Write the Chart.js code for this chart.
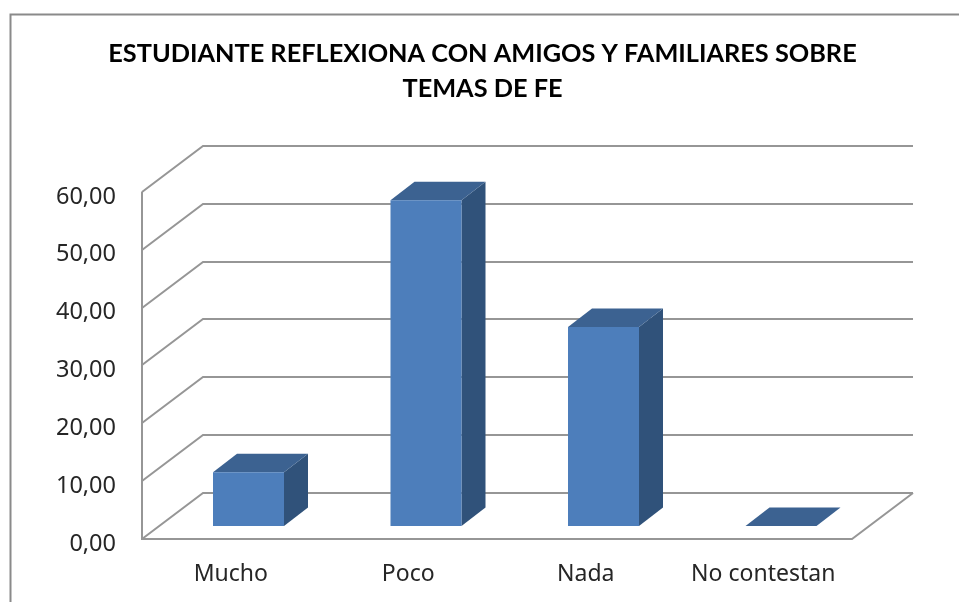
<!DOCTYPE html>
<html><head><meta charset="utf-8">
<style>html,body{margin:0;padding:0;background:#fff}#w{width:959px;height:602px;position:relative}</style>
<script src="https://cdn.jsdelivr.net/npm/chart.js@4"></script>
</head><body><div id="w"><canvas id="c" width="959" height="602"></canvas></div>
<script>
const categories = ["Mucho","Poco","Nada","No contestan"];
const values = [9.3,56.3,34.4,0];
const titleLines = ["ESTUDIANTE REFLEXIONA CON AMIGOS Y FAMILIARES SOBRE","TEMAS DE FE"];
const yMax = 60, yStep = 10;
const wall = {dx:61, dy:-46}, barShift = {dx:17.75, dy:-13}, barDepth = {dx:24, dy:-18.5};
const colors = {front:"#4D7EBB", top:"#3C6291", side:"#30527A", grid:"#969696", frame:"#8A8A8A"};

function poly(ctx, pts, fill){
  ctx.beginPath();
  pts.forEach((p,i)=> i?ctx.lineTo(p[0],p[1]):ctx.moveTo(p[0],p[1]));
  ctx.closePath();
  ctx.fillStyle=fill;ctx.fill();
}
function shiftLabels(s,dy){
  if(s._shifted) return;
  s._shifted=true;
  const draw=s.drawLabels.bind(s);
  s.drawLabels=a=>{s.ctx.save();s.ctx.translate(0,dy);draw(a);s.ctx.restore();};
}
const threeD = {
  id:"threeD",
  beforeDraw(chart){
    const c=chart.ctx;
    c.save();
    c.strokeStyle=colors.frame;c.lineWidth=2;
    c.beginPath();c.moveTo(10.5,602);c.lineTo(10.5,14.5);c.lineTo(959,14.5);c.stroke();
    c.restore();
  },
  beforeDatasetsDraw(chart){
    const c=chart.ctx,y=chart.scales.y,x=chart.scales.x,L=x.left,R=x.right;
    c.save();
    c.strokeStyle=colors.grid;c.lineWidth=2;
    for(let v=0;v<=yMax;v+=yStep){
      const p=Math.round(y.getPixelForValue(v));
      c.beginPath();c.moveTo(L,p);c.lineTo(L+wall.dx,p+wall.dy);c.lineTo(R+wall.dx,p+wall.dy);c.stroke();
    }
    const t=y.getPixelForValue(yMax),b=y.getPixelForValue(0);
    c.beginPath();c.moveTo(L,t);c.lineTo(L,b);c.lineTo(R,b);c.lineTo(R+wall.dx,b+wall.dy);c.stroke();
    c.restore();
    c.save();
    c.translate(barShift.dx,barShift.dy);
    chart.getDatasetMeta(0).data.forEach(el=>{
      const {x:cx,y:top,base,width}=el.getProps(["x","y","base","width"],true);
      const l=cx-width/2,r=cx+width/2,dx=barDepth.dx,dy=barDepth.dy;
      if(base-top>0.5) poly(c,[[r,top],[r+dx,top+dy],[r+dx,base+dy],[r,base]],colors.side);
      poly(c,[[l,top],[l+dx,top+dy],[r+dx,top+dy],[r,top]],colors.top);
    });
  },
  afterDatasetsDraw(chart){ chart.ctx.restore(); }
};
new Chart(document.getElementById("c"),{
  type:"bar",
  data:{labels:categories,datasets:[{data:values,backgroundColor:colors.front,borderWidth:0,barPercentage:0.4,categoryPercentage:1}]},
  plugins:[threeD],
  options:{
    responsive:false,animation:false,
    layout:{padding:{left:6,right:0,top:0,bottom:0}},
    plugins:{
      legend:{display:false},tooltip:{enabled:false},
      title:{display:true,text:titleLines,color:"#000",align:"center",
        font:{family:"Lato",size:25.3,weight:"bold",lineHeight:1.38},
        padding:{top:36,bottom:86},fullSize:true}
    },
    scales:{
      x:{grid:{display:false},border:{display:false},
        afterFit(s){s.height=63;},
        ticks:{color:"#262626",font:{family:"Noto Sans",size:23},padding:14,maxRotation:0}},
      y:{min:0,max:yMax,grid:{display:false,drawTicks:false},border:{display:false},
        afterFit(s){s.width=136;shiftLabels(s,5);},
        ticks:{stepSize:yStep,color:"#262626",font:{family:"Noto Sans",size:23.5},padding:26,
          callback:v=>v.toFixed(2).replace(".",",")}},
      spacer:{type:"linear",position:"right",display:true,grid:{display:false},border:{display:false},
        ticks:{display:false},afterFit(s){s.width=107;}}
    }
  }
});
</script></body></html>
